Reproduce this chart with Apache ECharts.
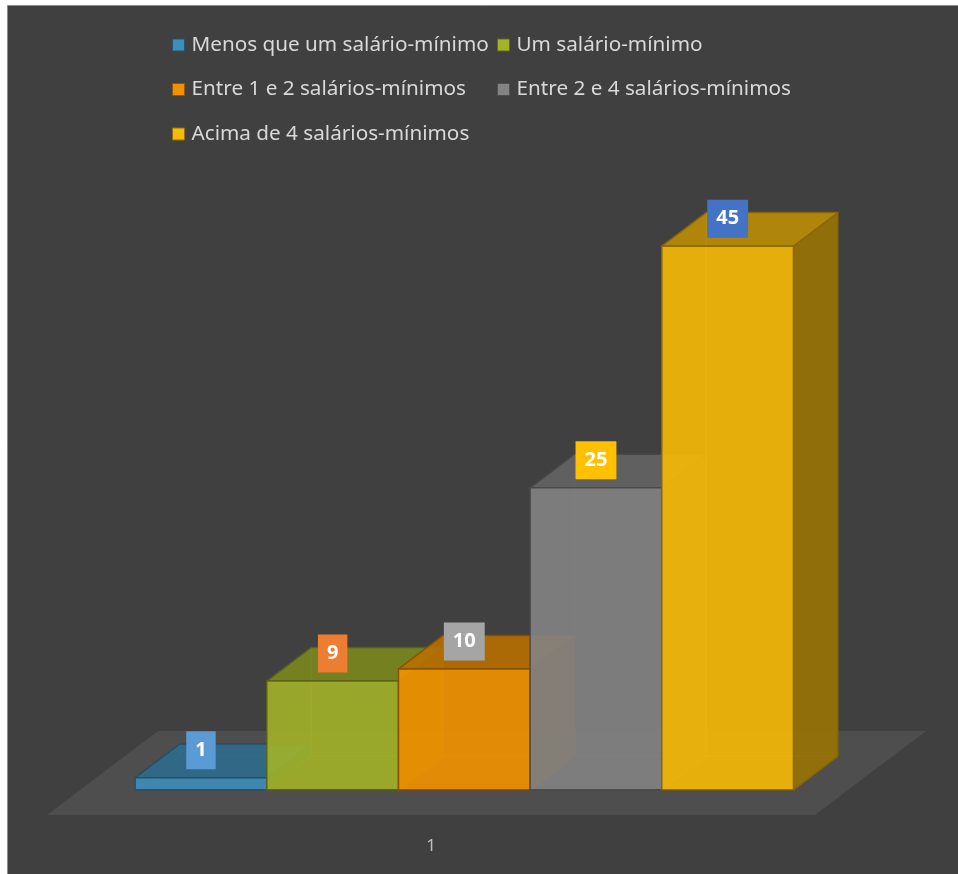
<!DOCTYPE html>
<html>
<head>
<meta charset="utf-8">
<script src="https://cdn.jsdelivr.net/npm/echarts@6/dist/echarts.min.js"></script>
<style>
  html, body { margin: 0; padding: 0; background: #ffffff; }
  #chart { width: 958px; height: 874px; }
</style>
</head>
<body>
<div id="chart"></div>
<script>
// Category on the x axis and one value per income band
const categories = ['1'];
const seriesNames = [
  'Menos que um salário-mínimo',
  'Um salário-mínimo',
  'Entre 1 e 2 salários-mínimos',
  'Entre 2 e 4 salários-mínimos',
  'Acima de 4 salários-mínimos'
];
const seriesValues = [1, 9, 10, 25, 45];

// Box colours and the colour of each value tag
const seriesColors = ['#3e8eb9', '#a2b328', '#f29200', '#838383', '#f7ba06'];
const labelColors = ['#5b9bd5', '#ed7d31', '#a5a5a5', '#ffc000', '#4472c4'];

// Oblique projection of the floor depth (pixels) and box placement inside the band
const DEPTH_X = 111;
const DEPTH_Y = -84;
const Z_FRONT = 0.3;
const Z_BACK = 0.7;
const SIDE_GAP = 0.0714;
const BOX_W = (1 - 2 * SIDE_GAP) / seriesNames.length;

function shade(hex, k) {
  const n = parseInt(hex.slice(1), 16);
  const r = Math.round(((n >> 16) & 255) * k);
  const g = Math.round(((n >> 8) & 255) * k);
  const b = Math.round((n & 255) * k);
  return 'rgb(' + r + ',' + g + ',' + b + ')';
}
function lighten(hex, k) {
  const n = parseInt(hex.slice(1), 16);
  const f = c => Math.round(c + (255 - c) * k);
  return 'rgb(' + f((n >> 16) & 255) + ',' + f((n >> 8) & 255) + ',' + f(n & 255) + ')';
}

function project(x, y, z) {
  return [x + z * DEPTH_X, y + z * DEPTH_Y];
}

function renderFloor(params, api) {
  const base = api.coord([api.value(0), 0]);
  const band = api.size([1, 0])[0];
  const xl = base[0] - band / 2;
  const xr = base[0] + band / 2;
  const y = base[1];
  return {
    type: 'polygon',
    z2: 0,
    shape: { points: [project(xl, y, 0), project(xr, y, 0), project(xr, y, 1), project(xl, y, 1)] },
    style: { fill: '#4e4e4e' }
  };
}

function renderBox(params, api) {
  const i = params.seriesIndex - 1;
  const color = seriesColors[i];
  const v = api.value(1);
  const base = api.coord([api.value(0), 0]);
  const top = api.coord([api.value(0), v]);
  const band = api.size([1, 0])[0];
  const x0 = base[0] - band / 2 + band * (SIDE_GAP + i * BOX_W);
  const x1 = x0 + band * BOX_W;
  const yb = base[1];
  const yt = top[1];
  const edge = shade(color, 0.55);
  const zb = 10 + i * 10;

  const hiddenEdges = {
    type: 'polyline',
    z2: zb,
    shape: { points: [project(x0, yb, Z_FRONT), project(x0, yb, Z_BACK), project(x0, yt, Z_BACK)] },
    style: { stroke: lighten(color, 0.1), lineWidth: 1, fill: null, opacity: 0.4 }
  };
  const hiddenBack = {
    type: 'line',
    z2: zb,
    shape: (function () {
      const a = project(x0, yb, Z_BACK), b = project(x1, yb, Z_BACK);
      return { x1: a[0], y1: a[1], x2: b[0], y2: b[1] };
    })(),
    style: { stroke: lighten(color, 0.1), lineWidth: 1, opacity: 0.35 }
  };
  const side = {
    type: 'polygon',
    z2: zb + 1,
    shape: { points: [project(x1, yb, Z_FRONT), project(x1, yt, Z_FRONT), project(x1, yt, Z_BACK), project(x1, yb, Z_BACK)] },
    style: { fill: shade(color, 0.62), opacity: 0.9, stroke: edge, lineWidth: 1.5, lineJoin: 'round' }
  };
  const lid = {
    type: 'polygon',
    z2: zb + 2,
    shape: { points: [project(x0, yt, Z_FRONT), project(x1, yt, Z_FRONT), project(x1, yt, Z_BACK), project(x0, yt, Z_BACK)] },
    style: { fill: shade(color, 0.76), opacity: 0.9, stroke: edge, lineWidth: 1.5, lineJoin: 'round' }
  };
  const f0 = project(x0, yt, Z_FRONT);
  const f1 = project(x1, yb, Z_FRONT);
  const front = {
    type: 'rect',
    z2: zb + 3,
    shape: { x: f0[0], y: f0[1], width: f1[0] - f0[0], height: f1[1] - f0[1] },
    style: { fill: color, opacity: 0.9, stroke: edge, lineWidth: 1.5 }
  };
  const tag = {
    type: 'text',
    z2: 500,
    style: {
      text: String(v),
      x: (f0[0] + f1[0]) / 2,
      y: f0[1] - 27.5,
      align: 'center',
      verticalAlign: 'middle',
      fill: '#ffffff',
      font: 'bold 20px "Noto Sans", "Liberation Sans", sans-serif',
      backgroundColor: labelColors[i],
      padding: [9, 9, 9, 9]
    }
  };
  return { type: 'group', children: [hiddenEdges, hiddenBack, side, lid, front, tag] };
}

const legendLeft = [172, 497, 172, 497, 172];
const legendTop = [34.5, 34.5, 79, 79, 123.5];

const chart = echarts.init(document.getElementById('chart'), null, { renderer: 'canvas' });

const series = [{
  type: 'custom',
  name: '__floor',
  renderItem: renderFloor,
  data: [[0, 0]],
  silent: true,
  z: 1
}].concat(seriesNames.map((name, i) => ({
  type: 'custom',
  name: name,
  renderItem: renderBox,
  itemStyle: { color: seriesColors[i] },
  data: [[0, seriesValues[i]]],
  z: 2
})));

chart.setOption({
  backgroundColor: '#ffffff',
  animation: false,
  graphic: [{
    type: 'rect',
    z: -10,
    left: 7,
    top: 5,
    shape: { width: 1000, height: 1000 },
    style: { fill: '#404040', stroke: '#8c8c8c', lineWidth: 1 }
  }],
  legend: seriesNames.map((name, i) => ({
    data: [{ name: name, itemStyle: { borderColor: shade(seriesColors[i], 0.6), borderWidth: 1 } }],
    left: legendLeft[i],
    top: legendTop[i],
    padding: 0,
    icon: 'rect',
    itemWidth: 12,
    itemHeight: 12,
    selectedMode: false,
    textStyle: { color: '#d9d9d9', fontSize: 20.7, fontFamily: 'Noto Sans', padding: [0, 0, 0, 2] }
  })),
  grid: { left: 47, top: 211, width: 768, bottom: 59, containLabel: false },
  xAxis: {
    type: 'category',
    data: categories,
    axisLine: { show: false },
    axisTick: { show: false },
    splitLine: { show: false },
    axisLabel: { color: '#bfbfbf', fontSize: 17, fontFamily: 'Noto Sans', margin: 23 }
  },
  yAxis: {
    type: 'value',
    min: 0,
    max: 50,
    show: false
  },
  series: series
});
</script>
</body>
</html>
